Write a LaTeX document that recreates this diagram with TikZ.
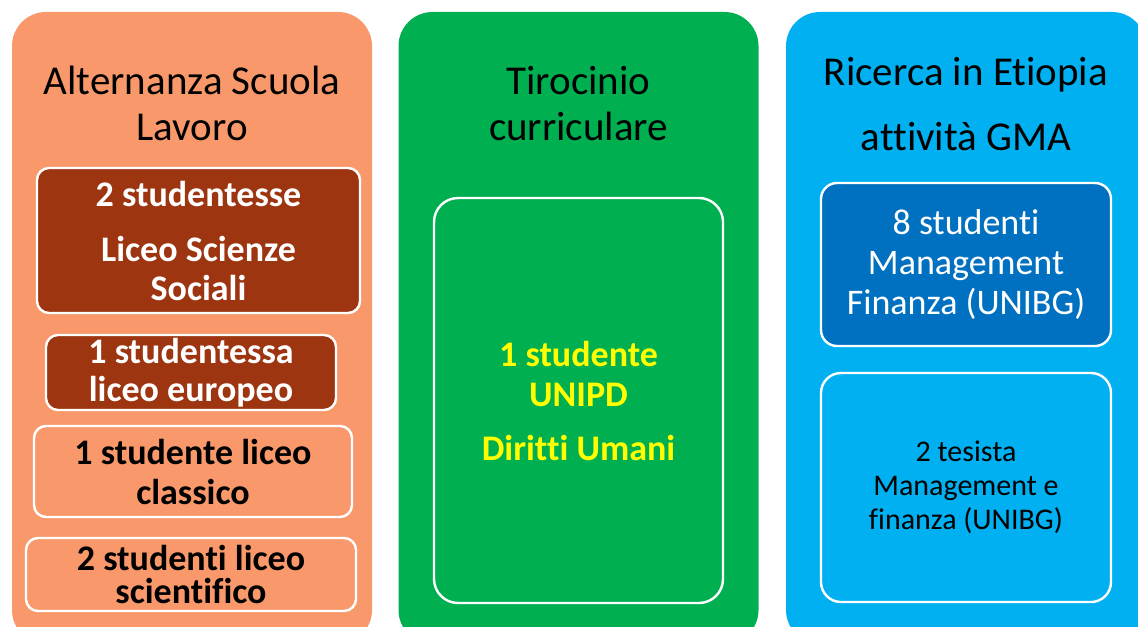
\documentclass[tikz,border=0pt]{standalone}
\usepackage{fontspec}
\setmainfont[Ligatures=NoCommon]{Carlito}
\usepackage{tikz}
\definecolor{salmone}{HTML}{F9996B}
\definecolor{bruno}{HTML}{9D3511}
\definecolor{verde}{HTML}{00B050}
\definecolor{azzurro}{HTML}{00B0F0}
\definecolor{blu}{HTML}{0070C0}
\definecolor{giallo}{HTML}{FFFF00}

\begin{document}
\begin{tikzpicture}[x=0.5pt,y=-0.5pt,
  column/.style={rounded corners=17pt,inner sep=0pt,minimum width=180pt,minimum height=316pt},
  box/.style={draw=white,line width=1.2pt,rounded corners=6pt,inner sep=0pt,align=center,font=\fontsize{18}{19.5}\selectfont\bfseries},
  title/.style={anchor=base,align=center,font=\fontsize{20.5}{22.5}\selectfont}]
    \clip (0,0) rectangle (1138,626);

    % three columns
    \node[column,fill=salmone] (scuola) at (192,328) {};
    \node[column,fill=verde] (tirocinio) at (578.5,328) {};
    \node[column,fill=azzurro] (ricerca) at (966,328) {};

    \node[title] (scuolatit) at (192,140) {Alternanza Scuola\\Lavoro};
    \node[title] (tirociniotit) at (578.5,140) {Tirocinio\\curriculare};
    \node[title] (ricercatit) at (966,150) {Ricerca in Etiopia\\[10pt]attività GMA};

    % Alternanza Scuola Lavoro
    \node[box,fill=bruno,text=white,minimum width=161.5pt,minimum height=72.5pt] (sociali) at (198.5,240.5) {2 studentesse\\[8pt]Liceo Scienze\\Sociali};
    \node[box,fill=bruno,text=white,minimum width=145pt,minimum height=37.5pt] (europeo) at (191,372.5) {1 studentessa\\[-0.5pt]liceo europeo};
    \node[box,fill=salmone,minimum width=159pt,minimum height=45.5pt] (classico) at (193,471.5) {1 studente liceo\\[0.5pt]classico};
    \node[box,fill=salmone,minimum width=165pt,minimum height=36.5pt] (scientifico) at (191,574.5) {2 studenti liceo\\[-3pt]scientifico};

    % Tirocinio curriculare
    \node[box,fill=verde,text=giallo,rounded corners=12pt,minimum width=144.5pt,minimum height=202.5pt,font=\fontsize{18}{20}\selectfont\bfseries] (unipd) at (578.5,400.5) {1 studente\\UNIPD\\[7pt]Diritti Umani};

    % Ricerca in Etiopia
    \node[box,fill=blu,text=white,rounded corners=8pt,minimum width=145pt,minimum height=81.5pt,font=\fontsize{18}{20}\selectfont] (studenti) at (966,264.5) {8 studenti\\Management\\Finanza (UNIBG)};
    \node[box,fill=azzurro,rounded corners=10pt,minimum width=145pt,minimum height=114.5pt,font=\fontsize{15}{17}\selectfont] (tesista) at (966,487.5) {2 tesista\\Management e\\finanza (UNIBG)};
\end{tikzpicture}
\end{document}
